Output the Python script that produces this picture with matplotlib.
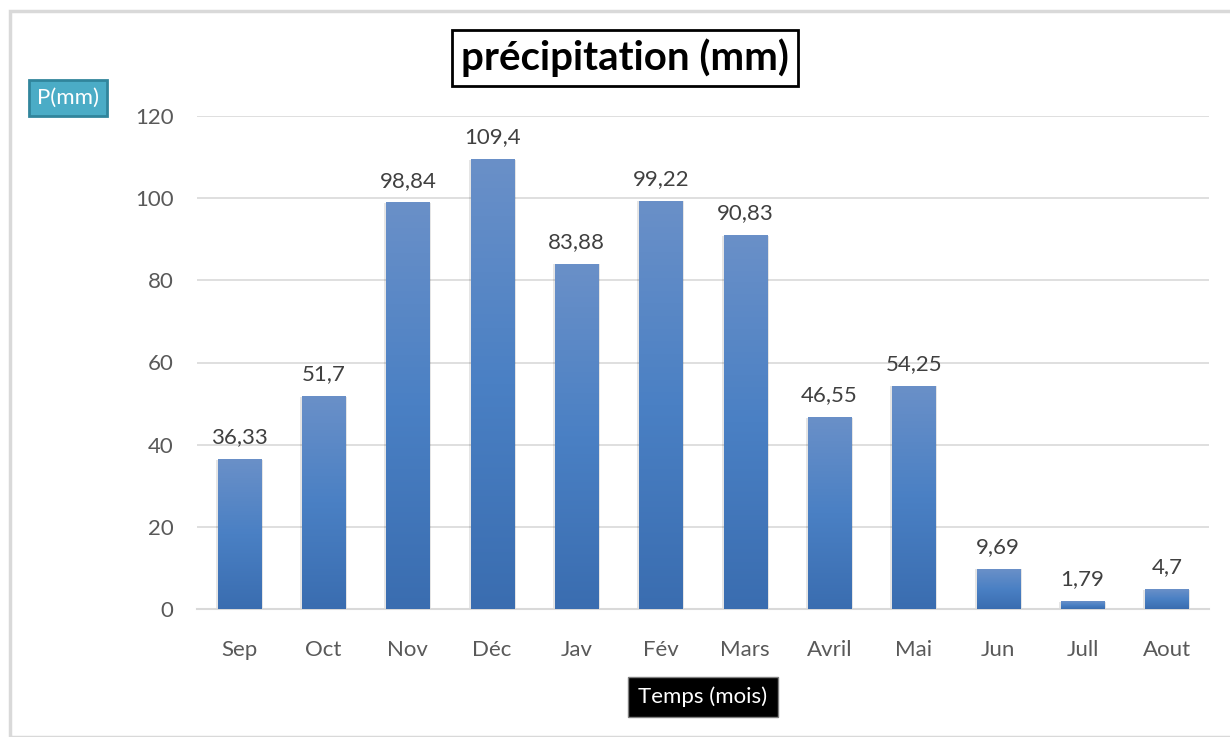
import numpy as np
import matplotlib.pyplot as plt
from matplotlib.patches import Rectangle
from matplotlib.colors import LinearSegmentedColormap

mois = ["Sep", "Oct", "Nov", "Déc", "Jav", "Fév", "Mars", "Avril", "Mai", "Jun", "Jull", "Aout"]
pluie = [36.33, 51.7, 98.84, 109.4, 83.88, 99.22, 90.83, 46.55, 54.25, 9.69, 1.79, 4.7]
etiquettes = ["36,33", "51,7", "98,84", "109,4", "83,88", "99,22", "90,83", "46,55", "54,25", "9,69", "1,79", "4,7"]
graduations = [0, 20, 40, 60, 80, 100, 120]

plt.rcParams['font.family'] = ['Lato', 'DejaVu Sans']

fig = plt.figure(figsize=(12.3, 7.37), dpi=100)
# cadre gris autour du graphique
fig.patches.append(Rectangle((10 / 1230, 0), 1.0, 1 - 11 / 737, transform=fig.transFigure,
                             fill=False, edgecolor="#d9d9d9", linewidth=2.5))

ax = fig.add_axes([197 / 1230, 1 - 609 / 737, (1209 - 197) / 1230, (609 - 116) / 737])
x = np.arange(len(mois))
largeur = 0.51

degrade = LinearSegmentedColormap.from_list("bleu", ["#3a6db0", "#4a80c4", "#6a90c8"])
grad = np.linspace(0, 1, 256).reshape(-1, 1)
for xi, v, txt in zip(x, pluie, etiquettes):
    # ombre légère sur les côtés de la barre
    ax.add_patch(Rectangle((xi - largeur / 2 - 0.025, 0), largeur + 0.05, v,
                           facecolor="#000000", alpha=0.10, edgecolor="none", zorder=2))
    ax.imshow(grad, extent=(xi - largeur / 2, xi + largeur / 2, 0, v), origin="lower",
              cmap=degrade, aspect="auto", zorder=3)
    ax.text(xi, v + 3, txt, ha="center", va="bottom", fontsize=16, color="#404040")

ax.set_xlim(-0.5, len(mois) - 0.5)
ax.set_ylim(0, 120)
ax.set_yticks(graduations)
ax.set_xticks(x)
ax.set_xticklabels(mois)
ax.tick_params(axis="both", length=0, labelsize=16, colors="#595959")
ax.tick_params(axis="x", pad=22)
ax.tick_params(axis="y", pad=17)
ax.grid(axis="y", color="#d9d9d9", linewidth=1.2, zorder=0)
ax.set_axisbelow(True)
for s in ["top", "right", "left"]:
    ax.spines[s].set_visible(False)
ax.spines["bottom"].set_color("#d9d9d9")
ax.spines["bottom"].set_linewidth(1.5)

fig.text(625 / 1230, 1 - 58 / 737, "précipitation (mm)", ha="center", va="center",
         fontsize=29, fontweight="bold", color="black",
         bbox=dict(boxstyle="square,pad=0.22", facecolor="white", edgecolor="black", linewidth=2))
fig.text(68 / 1230, 1 - 98 / 737, "P(mm)", ha="center", va="center", fontsize=16, color="white",
         bbox=dict(boxstyle="square,pad=0.38", facecolor="#4bacc6", edgecolor="#31859c", linewidth=2))
fig.text(703 / 1230, 1 - 697 / 737, "Temps (mois)", ha="center", va="center", fontsize=16,
         color="white",
         bbox=dict(boxstyle="square,pad=0.45", facecolor="black", edgecolor="#808080", linewidth=1))

fig.savefig("out.png", dpi=100)
